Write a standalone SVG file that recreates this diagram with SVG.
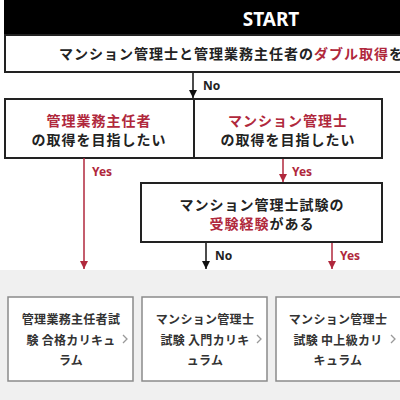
<svg xmlns="http://www.w3.org/2000/svg" width="400" height="400" viewBox="0 0 400 400">
<style>
.jp{font-family:"Noto Sans CJK JP","Noto Sans",sans-serif;font-weight:700;}
.t14{font-size:14px;letter-spacing:1px;fill:#222;}
.t12{font-size:12px;letter-spacing:0.3px;fill:#333;}
.red{fill:#b0283c;}
.lbl{font-family:"Noto Sans","Liberation Sans",sans-serif;font-weight:700;font-size:12px;}
.box{fill:#fff;stroke:#222;stroke-width:2;}
.card{fill:#fff;stroke:#8a8a8a;stroke-width:1.5;}
.chev{fill:none;stroke:#999;stroke-width:1.3;}
</style>
<defs>
<marker id="ab" viewBox="0 0 10 10" refX="10" refY="5" markerWidth="8" markerHeight="8" markerUnits="userSpaceOnUse" orient="auto"><path d="M0,0 L10,5 L0,10 z" fill="#111"/></marker>
<marker id="ar" viewBox="0 0 10 10" refX="10" refY="5" markerWidth="8" markerHeight="8" markerUnits="userSpaceOnUse" orient="auto"><path d="M0,0 L10,5 L0,10 z" fill="#b0283c"/></marker>
</defs>
<rect x="0" y="270" width="400" height="130" fill="#f0f0f0"/>
<g id="start">
<rect x="4" y="-2" width="420" height="37" fill="#000"/>
<text x="271" y="26" font-family="Noto Sans, Liberation Sans, sans-serif" font-weight="700" font-size="19" fill="#fff" text-anchor="middle">START</text>
</g>
<g id="q1">
<rect class="box" x="5" y="35" width="420" height="37"/>
<text class="jp t14" x="59" y="59">マンション管理士と管理業務主任者の<tspan class="red">ダブル取得</tspan>を</text>
</g>
<g id="q2">
<rect class="box" x="5" y="99" width="377" height="59"/>
<line x1="194" y1="99" x2="194" y2="158" stroke="#222" stroke-width="2"/>
<text class="jp t14" x="99" y="126" text-anchor="middle"><tspan class="red">管理業務主任者</tspan></text>
<text class="jp t14" x="99" y="145" text-anchor="middle">の取得を目指したい</text>
<text class="jp t14" x="288" y="126" text-anchor="middle"><tspan class="red">マンション管理士</tspan></text>
<text class="jp t14" x="288" y="145" text-anchor="middle">の取得を目指したい</text>
</g>
<g id="q3">
<rect class="box" x="141" y="183" width="241" height="59"/>
<text class="jp t14" x="262" y="210" text-anchor="middle">マンション管理士試験の</text>
<text class="jp t14" x="262" y="229" text-anchor="middle"><tspan class="red">受験経験</tspan>がある</text>
</g>
<g id="connectors">
<line x1="193" y1="73" x2="193" y2="98" stroke="#111" stroke-width="1.5" marker-end="url(#ab)"/>
<text class="lbl" x="203" y="90" fill="#222">No</text>
<line x1="84" y1="158" x2="84" y2="269" stroke="#b0283c" stroke-width="1.5" marker-end="url(#ar)"/>
<text class="lbl" x="92" y="176" fill="#b0283c">Yes</text>
<line x1="283" y1="159" x2="283" y2="182" stroke="#b0283c" stroke-width="1.5" marker-end="url(#ar)"/>
<text class="lbl" x="292" y="176" fill="#b0283c">Yes</text>
<line x1="206" y1="243" x2="206" y2="269" stroke="#111" stroke-width="1.5" marker-end="url(#ab)"/>
<text class="lbl" x="215" y="260" fill="#222">No</text>
<line x1="332" y1="243" x2="332" y2="269" stroke="#b0283c" stroke-width="1.5" marker-end="url(#ar)"/>
<text class="lbl" x="340" y="260" fill="#b0283c">Yes</text>
</g>
<g id="card1">
<rect class="card" x="8" y="297" width="125" height="84"/>
<text class="jp t12" x="71" y="324" text-anchor="middle">管理業務主任者試</text>
<text class="jp t12" x="71" y="345" text-anchor="middle">験 合格カリキュ</text>
<text class="jp t12" x="71" y="365" text-anchor="middle">ラム</text>
<polyline class="chev" points="123,335 127,339 123,343"/>
</g>
<g id="card2">
<rect class="card" x="142" y="297" width="125" height="84"/>
<text class="jp t12" x="205" y="324" text-anchor="middle">マンション管理士</text>
<text class="jp t12" x="205" y="345" text-anchor="middle">試験 入門カリキ</text>
<text class="jp t12" x="205" y="365" text-anchor="middle">ュラム</text>
<polyline class="chev" points="257,335 261,339 257,343"/>
</g>
<g id="card3">
<rect class="card" x="276" y="297" width="140" height="84"/>
<text class="jp t12" x="338" y="324" text-anchor="middle">マンション管理士</text>
<text class="jp t12" x="338" y="345" text-anchor="middle">試験 中上級カリ</text>
<text class="jp t12" x="338" y="365" text-anchor="middle">キュラム</text>
<polyline class="chev" points="391,335 395,339 391,343"/>
</g>
</svg>
